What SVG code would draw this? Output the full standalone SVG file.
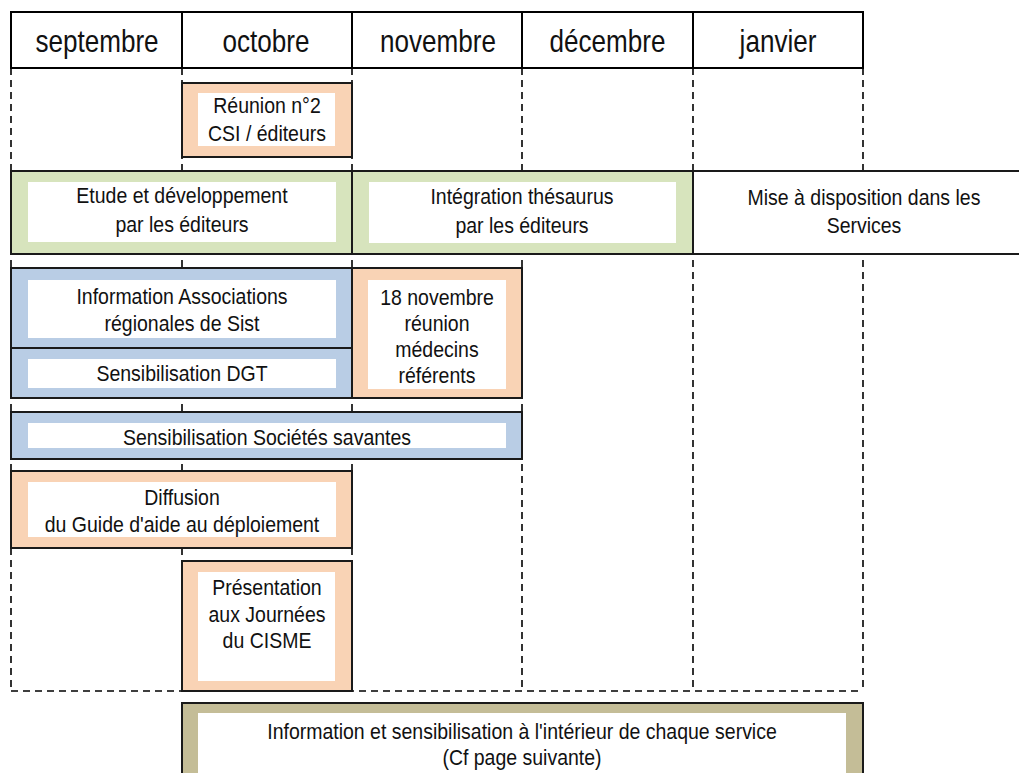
<svg xmlns="http://www.w3.org/2000/svg" width="1019" height="773" viewBox="0 0 1019 773">
  <style>
    .grid { fill: none; stroke: #000; stroke-width: 1.6; stroke-dasharray: 7 5; }
    .head { fill: #fff; stroke: #000; stroke-width: 2; }
    .box { stroke: #1a1a1a; stroke-width: 2; }
    .orange { fill: #F9D3B5; }
    .green { fill: #D7E4BD; }
    .blue { fill: #B9CDE5; }
    .tan { fill: #C4BD97; }
    .plain { fill: #fff; }
    .inner { fill: #fff; stroke: none; }
    text { font-family: "Liberation Sans", Arial, sans-serif; fill: #111; text-anchor: middle; }
    .h { font-size: 30.5px; }
    .t { font-size: 22.8px; }
  </style>

  <rect width="1019" height="773" fill="#fff"/>

  <!-- dashed month columns -->
  <g id="grid">
    <path class="grid" d="M11 68V691M182 68V691M352 68V691M522 68V691M693 68V691M863 68V691M11 691H863"/>
  </g>

  <!-- month header -->
  <g id="header">
    <rect class="head" x="11" y="12" width="852" height="56"/>
    <path d="M182 12V68M352 12V68M522 12V68M693 12V68" stroke="#000" stroke-width="2"/>
    <text class="h" transform="translate(97 52) scale(0.855 1)">septembre</text>
    <text class="h" transform="translate(266 52) scale(0.855 1)">octobre</text>
    <text class="h" transform="translate(438 52) scale(0.855 1)">novembre</text>
    <text class="h" transform="translate(607.5 52) scale(0.855 1)">décembre</text>
    <text class="h" transform="translate(778 52) scale(0.855 1)">janvier</text>
  </g>

  <g id="reunion2">
    <rect class="box orange" x="182" y="83" width="170" height="74"/>
    <rect class="inner" x="198" y="93" width="137" height="53"/>
    <text class="t" transform="translate(267 113) scale(0.855 1)"><tspan x="0" y="0">Réunion n°2</tspan><tspan x="0" y="28">CSI / éditeurs</tspan></text>
  </g>

  <g id="etude">
    <rect class="box green" x="11" y="171" width="341" height="83"/>
    <rect class="inner" x="28" y="182" width="308" height="60"/>
    <text class="t" transform="translate(182 203) scale(0.855 1)"><tspan x="0" y="0">Etude et développement</tspan><tspan x="0" y="29">par les éditeurs</tspan></text>
  </g>

  <g id="integration">
    <rect class="box green" x="352" y="171" width="341" height="83"/>
    <rect class="inner" x="369" y="182" width="307" height="61"/>
    <text class="t" transform="translate(522 204) scale(0.855 1)"><tspan x="0" y="0">Intégration thésaurus</tspan><tspan x="0" y="29">par les éditeurs</tspan></text>
  </g>

  <g id="mise-a-disposition">
    <rect class="box plain" x="693" y="171" width="400" height="83"/>
    <text class="t" transform="translate(864 205) scale(0.855 1)"><tspan x="0" y="0">Mise à disposition dans les</tspan><tspan x="0" y="28">Services</tspan></text>
  </g>

  <g id="info-associations">
    <rect class="box blue" x="11" y="268" width="341" height="80"/>
    <rect class="inner" x="28" y="280" width="308" height="58"/>
    <text class="t" transform="translate(182 304) scale(0.855 1)"><tspan x="0" y="0">Information Associations</tspan><tspan x="0" y="27">régionales de Sist</tspan></text>
  </g>

  <g id="sensib-dgt">
    <rect class="box blue" x="11" y="348" width="341" height="50"/>
    <rect class="inner" x="28" y="359" width="308" height="29"/>
    <text class="t" transform="translate(182 381) scale(0.855 1)">Sensibilisation DGT</text>
  </g>

  <g id="reunion-medecins">
    <rect class="box orange" x="352" y="268" width="170" height="130"/>
    <rect class="inner" x="368" y="280" width="138" height="109"/>
    <text class="t" transform="translate(437 305) scale(0.855 1)"><tspan x="0" y="0">18 novembre</tspan><tspan x="0" y="26">réunion</tspan><tspan x="0" y="52">médecins</tspan><tspan x="0" y="78">référents</tspan></text>
  </g>

  <g id="societes-savantes">
    <rect class="box blue" x="11" y="412" width="511" height="47"/>
    <rect class="inner" x="28" y="423" width="478" height="25"/>
    <text class="t" transform="translate(267 445) scale(0.855 1)">Sensibilisation Sociétés savantes</text>
  </g>

  <g id="diffusion-guide">
    <rect class="box orange" x="11" y="471" width="341" height="77"/>
    <rect class="inner" x="28" y="482" width="308" height="55"/>
    <text class="t" transform="translate(182 505) scale(0.855 1)"><tspan x="0" y="0">Diffusion</tspan><tspan x="0" y="27">du Guide d'aide au déploiement</tspan></text>
  </g>

  <g id="presentation-cisme">
    <rect class="box orange" x="182" y="561" width="170" height="130"/>
    <rect class="inner" x="198" y="572" width="137" height="109"/>
    <text class="t" transform="translate(267 595) scale(0.855 1)"><tspan x="0" y="0">Présentation</tspan><tspan x="0" y="27">aux Journées</tspan><tspan x="0" y="53">du CISME</tspan></text>
  </g>

  <g id="info-services">
    <rect class="box tan" x="182" y="703" width="681" height="90"/>
    <rect class="inner" x="198" y="713" width="648" height="80"/>
    <text class="t" transform="translate(522 739) scale(0.855 1)"><tspan x="0" y="0">Information et sensibilisation à l'intérieur de chaque service</tspan><tspan x="0" y="26">(Cf page suivante)</tspan></text>
  </g>
</svg>
